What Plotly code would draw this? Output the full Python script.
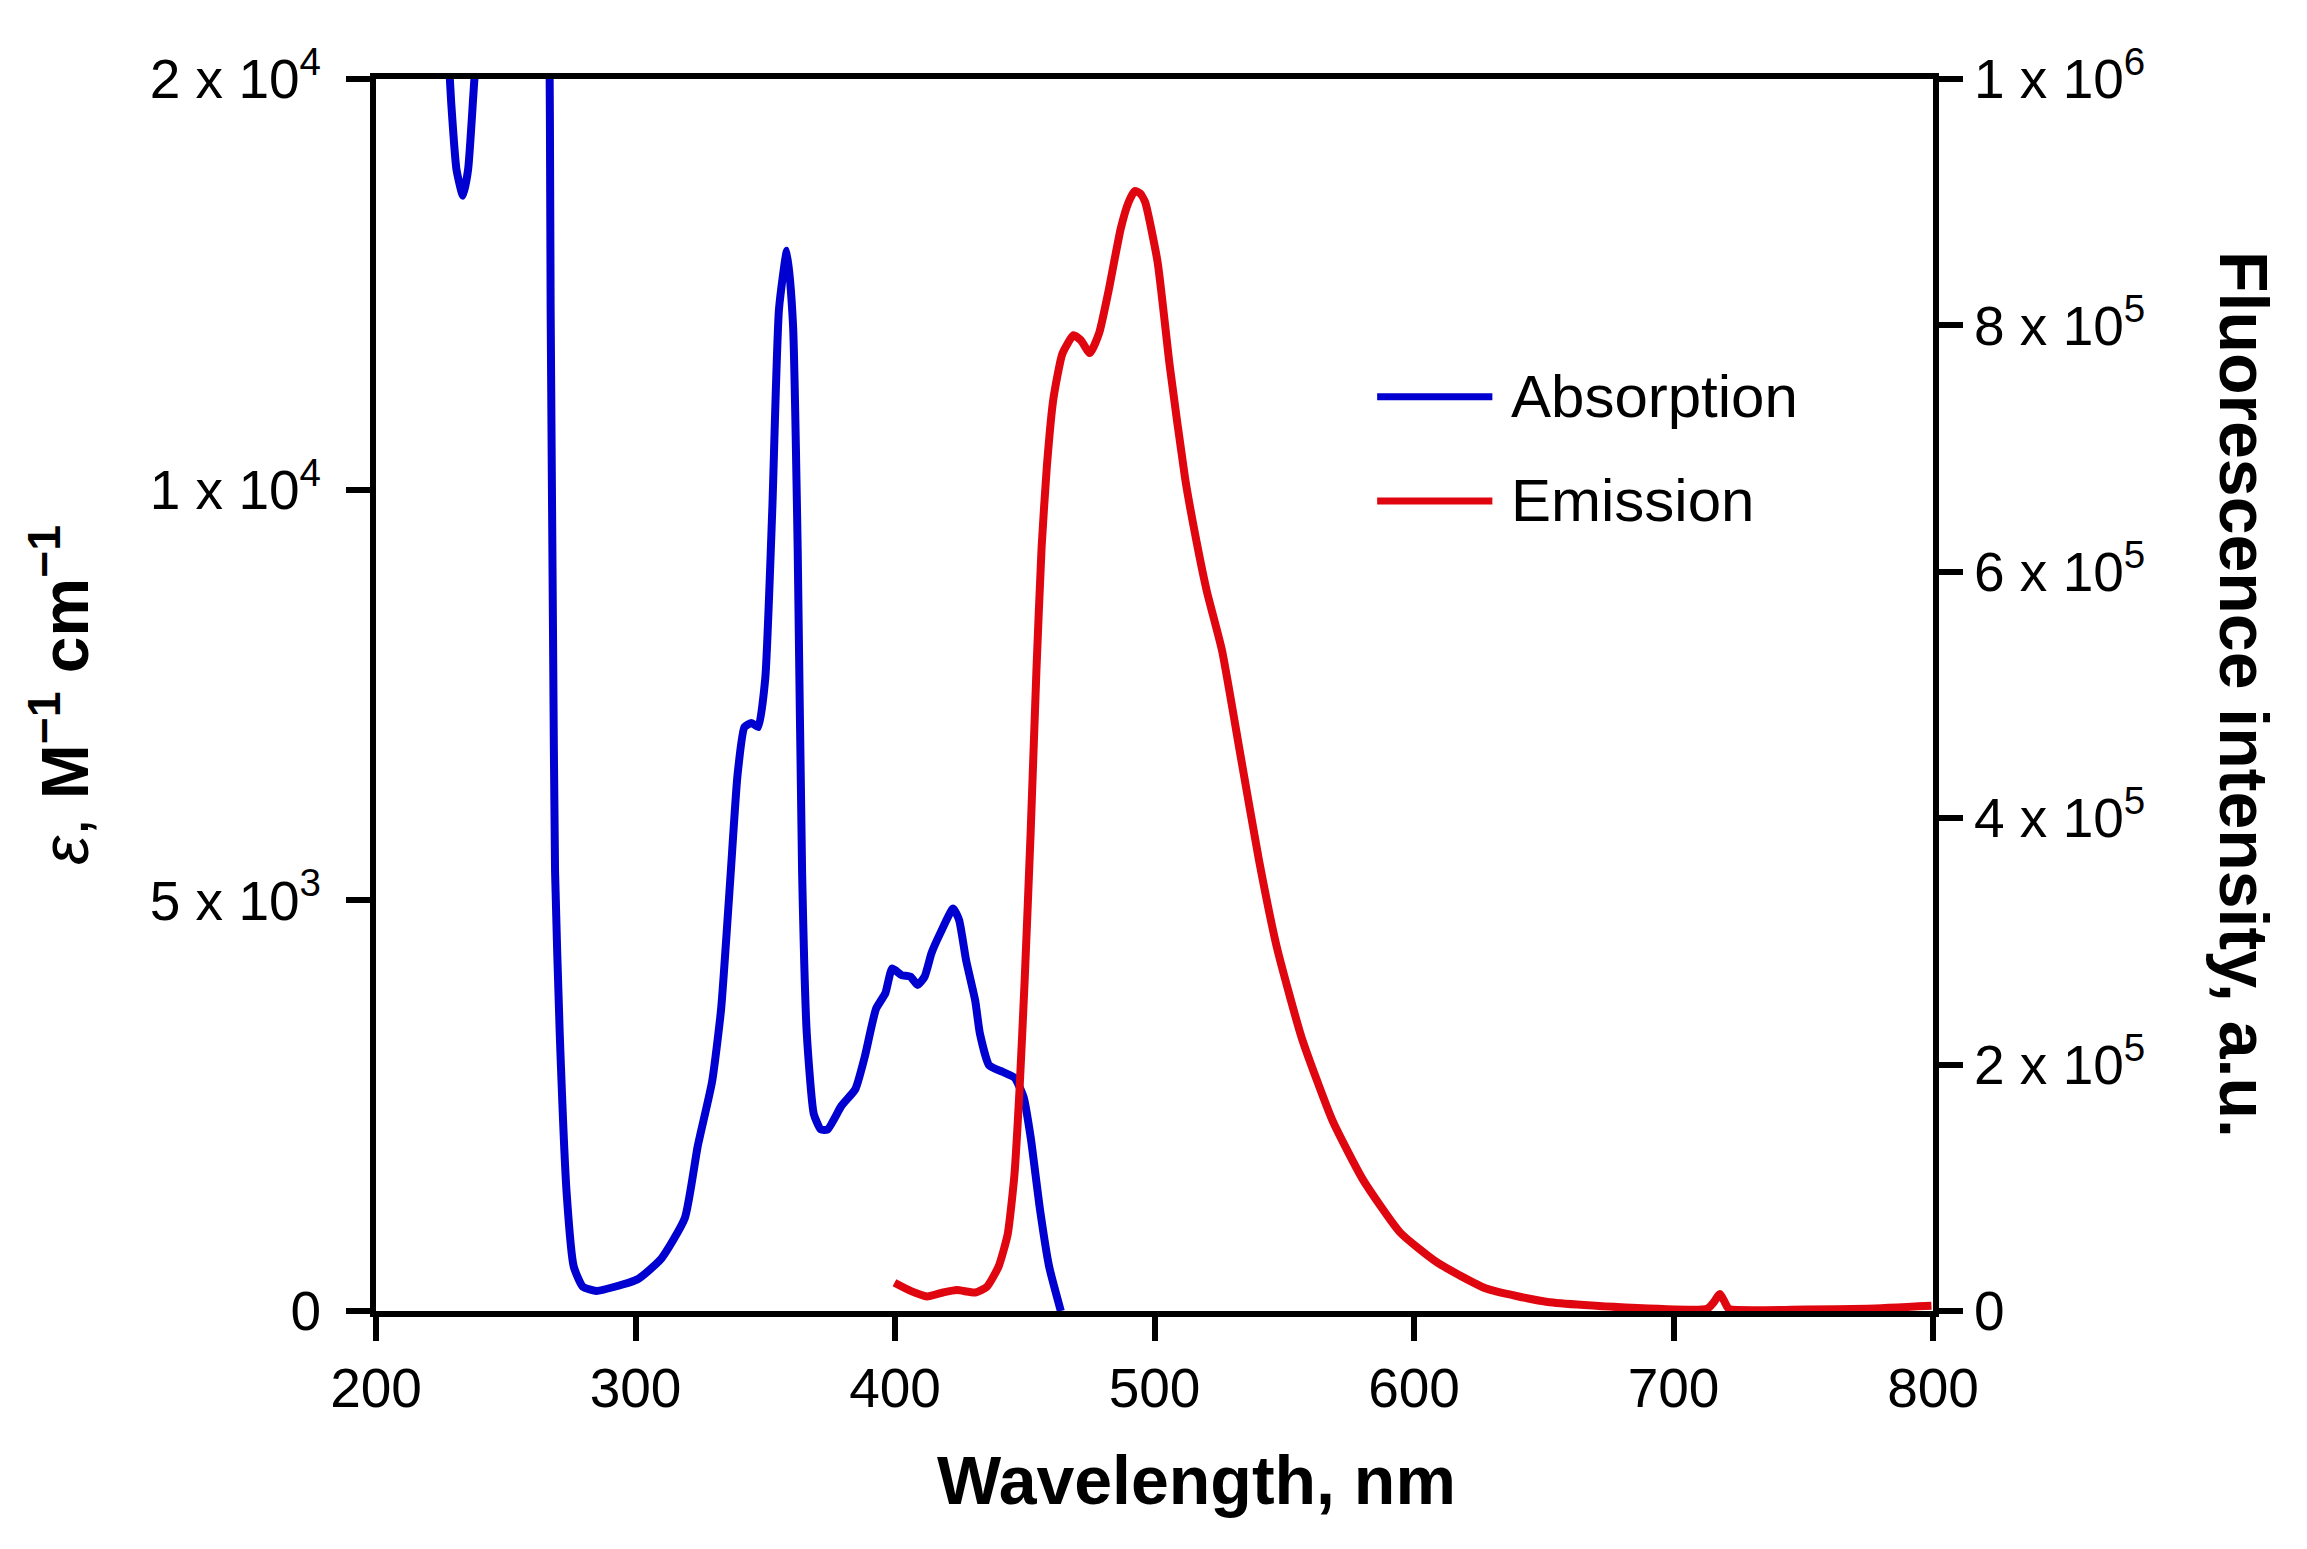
# Absorption and emission spectra on twin y axes

import plotly.graph_objects as go

# absorption (left axis, top tick sits at 15000 but is labelled "2 x 10^4")
abs_nm = [227, 229, 231, 233.5, 235.5, 237.5, 239.5, 250, 262, 266.5,
          267.3, 268.2, 269.0, 270.8, 273.5, 276.2, 279.7, 285, 292, 301,
          310, 319, 324, 329.5, 333, 336.7, 339.3, 342, 344.7, 347.3,
          350, 352.7, 355.3, 358.4, 360.7, 362.5, 364.2, 366, 368.7, 371.4,
          374, 379.4, 384.7, 388.3, 392.7, 396.3, 398.9, 402.5, 406, 408.7,
          411.4, 414.1, 417.6, 422.4, 424.7, 427.4, 430.9, 432.7, 436.3, 441.6,
          446.1, 449.6, 452.3, 455.9, 459.4, 463.9]
abs_eps = [15800, 14700, 13900, 13580, 13900, 14800, 15800, 24000, 22000, 17000,
           12200, 8300, 5350, 3380, 1420, 540, 295, 245, 295, 390,
           640, 1130, 2010, 2790, 3680, 5340, 6520, 7110, 7160, 7110,
           7700, 9750, 12200, 12910, 12010, 9270, 5340, 3380, 2400, 2210,
           2210, 2500, 2700, 3090, 3680, 3870, 4170, 4090, 4070, 3970,
           4070, 4360, 4610, 4900, 4760, 4270, 3780, 3380, 2990, 2910,
           2840, 2600, 2110, 1230, 540, 0]

# emission (right axis)
em_nm = [399.8, 406, 412.3, 418.5, 423.8, 431, 435.4, 439.9, 443.4, 446,
         448, 450, 452.3, 454.5, 456.5, 458.5, 461, 464.5, 468.8, 471.6,
         475.1, 478.7, 482.2, 487, 490, 492.4, 494.5, 496.4, 501.2, 505.9,
         511.8, 515.4, 520.1, 526, 533.1, 540.2, 547.3, 556.8, 568.6, 580.5,
         594.7, 608.9, 627.8, 651.5, 679.9, 713, 715.5, 717.8, 719.8, 721.3,
         750.9, 774.6, 799.4]
em_int = [22900, 16300, 11800, 15000, 17000, 15000, 19600, 36000, 62000, 110000,
          180000, 270000, 390000, 520000, 620000, 685000, 740000, 777000, 792000, 788000,
          777500, 794000, 827000, 878700, 900000, 909000, 907000, 900000, 851400, 766600,
          675700, 633300, 584800, 536300, 451500, 366600, 293900, 221200, 154500, 106000,
          63600, 39400, 18200, 7300, 3000, 1800, 7000, 13900, 7000, 1800,
          1200, 1800, 4200]

names = ['Absorption', 'Emission']
colors = ['#0000d0', '#e0060f']

x_ticks = [200, 300, 400, 500, 600, 700, 800]
y1_ticks = [0, 5000, 10000, 15000]
y1_text = ['0', '5 x 10<sup>3</sup>', '1 x 10<sup>4</sup>', '2 x 10<sup>4</sup>']
y2_ticks = [0, 200000, 400000, 600000, 800000, 1000000]
y2_text = ['0', '2 x 10<sup>5</sup>', '4 x 10<sup>5</sup>', '6 x 10<sup>5</sup>',
           '8 x 10<sup>5</sup>', '1 x 10<sup>6</sup>']

FONT = 'Liberation Sans, Arial, Helvetica, sans-serif'

fig = go.Figure()
fig.add_trace(go.Scatter(x=abs_nm, y=abs_eps, mode='lines', name=names[0],
                         line=dict(color=colors[0], width=8, shape='spline', smoothing=0.5),
                         yaxis='y'))
fig.add_trace(go.Scatter(x=em_nm, y=em_int, mode='lines', name=names[1],
                         line=dict(color=colors[1], width=8, shape='spline', smoothing=0.5),
                         yaxis='y2'))

axis_common = dict(showline=True, linecolor='black', linewidth=6,
                   ticks='outside', ticklen=24, tickwidth=6, tickcolor='black',
                   showgrid=False, zeroline=False,
                   tickfont=dict(family=FONT, size=55, color='black'))

fig.update_layout(
    width=2307, height=1549,
    margin=dict(l=368, r=382, t=71, b=246, autoexpand=False),
    paper_bgcolor='white', plot_bgcolor='white',
    showlegend=False,
    xaxis=dict(range=[200, 800], tickvals=x_ticks, mirror=True, **axis_common),
    yaxis=dict(range=[0, 15000], tickvals=y1_ticks, ticktext=y1_text,
               ticklabelstandoff=14, **axis_common),
    yaxis2=dict(range=[0, 1000000], tickvals=y2_ticks, ticktext=y2_text,
                overlaying='y', side='right', **axis_common),
)

# axis titles
fig.add_annotation(text='<b>Wavelength, nm</b>', xref='paper', yref='paper',
                   x=0.527, y=-0.137, showarrow=False, xanchor='center', yanchor='middle',
                   font=dict(family=FONT, size=68, color='black'))
fig.add_annotation(text='<i>ε</i>, <b>M<sup>−1</sup> cm<sup>−1</sup></b>',
                   xref='paper', yref='paper', x=-0.203, y=0.5, textangle=-90,
                   showarrow=False, xanchor='center', yanchor='middle',
                   font=dict(family=FONT, size=66, color='black'))
fig.add_annotation(text='<b>Fluorescence intensity, a.u.</b>',
                   xref='paper', yref='paper', x=1.1997, y=0.5, textangle=90,
                   showarrow=False, xanchor='center', yanchor='middle',
                   font=dict(family=FONT, size=68, color='black'))

# legend drawn by hand so the sample lines are long like the original
leg_y = [0.742, 0.6575]
for name, col, ly in zip(names, colors, leg_y):
    fig.add_shape(type='line', xref='paper', yref='paper',
                  x0=0.643, x1=0.717, y0=ly, y1=ly,
                  line=dict(color=col, width=7))
    fig.add_annotation(text=name, xref='paper', yref='paper', x=0.728, y=ly,
                       showarrow=False, xanchor='left', yanchor='middle',
                       font=dict(family=FONT, size=60, color='black'))

fig.write_html("out.html")
